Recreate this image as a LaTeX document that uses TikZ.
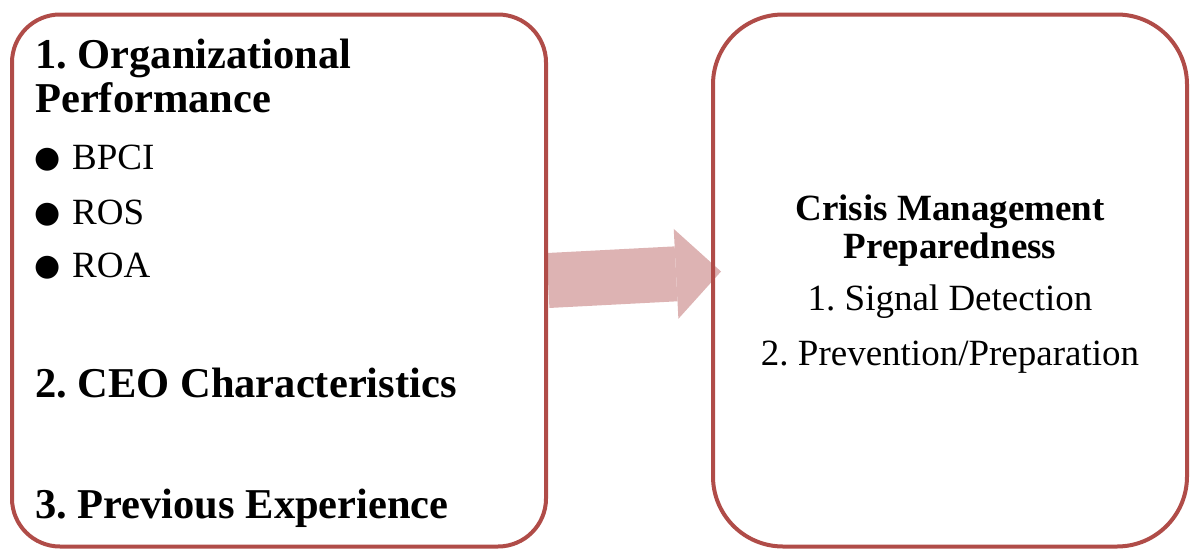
\documentclass[tikz,border=0pt]{standalone}
\usepackage{fontspec}
\setmainfont{Liberation Serif}
\newfontfamily\symfont{DejaVu Sans}
\usetikzlibrary{arrows.meta,calc,backgrounds}
\definecolor{panelred}{RGB}{176,76,72}
\definecolor{arrowpink}{RGB}{221,179,179}
\frenchspacing

\begin{document}
\begin{tikzpicture}[x=1pt, y=-1pt]
    % Define styles
    \tikzset{
        panel/.style={
            draw=panelred,
            line width=4pt,
            minimum height=532pt,
            inner sep=0pt
        },
        heading/.style={
            anchor=base west,
            inner sep=0pt,
            font=\fontsize{42.5}{48}\selectfont\bfseries
        },
        item/.style={
            anchor=base west,
            inner sep=0pt,
            font=\fontsize{37}{42}\selectfont
        },
        dot/.style={
            anchor=base west,
            inner sep=0pt,
            font=\symfont\fontsize{30}{34}\selectfont
        },
        title/.style={
            anchor=base,
            inner sep=0pt,
            font=\fontsize{37}{42}\selectfont\bfseries
        },
        entry/.style={
            anchor=base,
            inner sep=0pt,
            font=\fontsize{37}{42}\selectfont
        },
        flow/.style={
            arrowpink,
            line width=55pt,
            -{Triangle[length=45pt, width=90pt, line width=0pt]}
        }
    }
    \useasboundingbox (0,0) rectangle (1194,549);

    % Boxes
    \node[panel, minimum width=534pt, rounded corners=48pt] (drivers) at (279,280.5) {};
    \node[panel, minimum width=474pt, rounded corners=70pt] (crisis) at (950,280.5) {};

    % Left box contents
    \node[heading] (perf) at (35,68) {1. Organizational};
    \node[heading] (perfb) at (35,112) {Performance};
    \node[dot] (d1) at (34,167) {●};
    \node[item] (bpci) at (72,169) {BPCI};
    \node[dot] (d2) at (34,222) {●};
    \node[item] (ros) at (72,224) {ROS};
    \node[dot] (d3) at (34,275) {●};
    \node[item] (roa) at (72,277) {ROA};
    \node[heading] (ceo) at (35,397) {2. CEO Characteristics};
    \node[heading] (prev) at (35,518) {3. Previous Experience};

    % Right box contents
    \node[title] (cmtitle) at (950,220) {Crisis Management};
    \node[title] (cmtitleb) at (950,258) {Preparedness};
    \node[entry] (signal) at (950,310) {1. Signal Detection};
    \node[entry] (prevention) at (950,365) {2. Prevention/Preparation};

    % Block arrow between the boxes
    \coordinate (tip) at ($(crisis.west)+(10,-9)$);
    \begin{scope}[on background layer]
        \draw[flow] (drivers.east) -- (tip);
    \end{scope}

\end{tikzpicture}
\end{document}
